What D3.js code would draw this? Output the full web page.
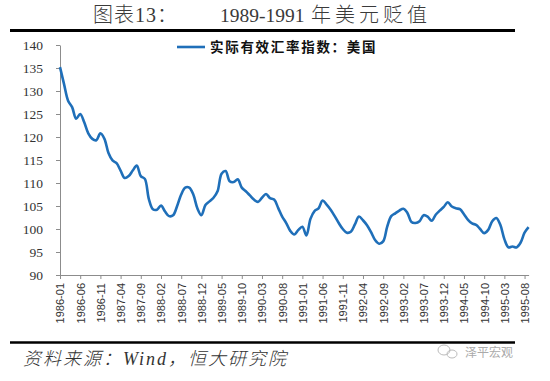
<!DOCTYPE html>
<html><head><meta charset="utf-8">
<script src="https://cdn.jsdelivr.net/npm/d3@7/dist/d3.min.js"></script>
<style>body{margin:0;background:#fff;}svg{display:block;}</style>
</head><body>
<svg id="c" width="550" height="381"></svg>
<script>
// ---- data ----
const seriesName = "实际有效汇率指数：美国";
const startYear = 1986, startMonth = 1;
const values = [
  135.2,131.5,127.9,126.5,124.0,125.0,123.2,120.8,119.6,119.3,120.8,119.6,
  116.5,114.9,114.3,112.7,111.1,111.5,112.7,113.8,111.5,110.9,106.5,104.3,
  104.2,105.1,103.8,102.8,103.0,105.0,107.5,109.0,109.0,107.5,104.5,103.0,
  105.2,106.0,106.8,108.2,112.0,112.6,110.4,110.2,110.8,109.0,108.2,107.3,
  106.4,105.9,106.8,107.6,106.7,106.4,104.6,102.7,101.3,99.6,98.8,99.8,
  100.5,98.6,102.2,103.9,104.5,106.2,105.3,104.2,102.8,101.3,100.0,99.2,
  99.4,101.0,102.7,101.9,100.8,99.3,97.6,96.8,97.3,100.5,102.8,103.4,
  104.0,104.4,103.5,101.5,101.3,101.7,103.0,102.7,101.8,103.1,104.0,104.8,
  105.8,104.9,104.5,104.3,103.2,102.0,101.2,100.9,100.0,99.1,99.8,101.7,
  102.4,100.9,97.8,96.0,96.2,96.0,97.0,99.2,100.4
];
const xTickLabels = ["1986-01","1986-06","1986-11","1987-04","1987-09","1988-02","1988-07","1988-12",
  "1989-05","1989-10","1990-03","1990-08","1991-01","1991-06","1991-11","1992-04","1992-09",
  "1993-02","1993-07","1993-12","1994-05","1994-10","1995-03","1995-08"];
const yTickValues = [90,95,100,105,110,115,120,125,130,135,140];

// categories (month labels)
const categories = values.map((v,i)=>{
  const m = startMonth - 1 + i;
  const yr = startYear + Math.floor(m/12);
  const mm = (m%12)+1;
  return yr + "-" + (mm<10?"0"+mm:mm);
});
const data = categories.map((c,i)=>({c, v: values[i]}));

// ---- layout ----
const svg = d3.select("#c");
const pL = 60, pR = 528.6, pT = 45, pB = 275;
const x = d3.scalePoint().domain(categories).range([pL, pR]);
const y = d3.scaleLinear().domain([90,140]).range([pB, pT]);
const axisColor = "#8c8c8c";

// title
const title = svg.append("text").attr("y", 22).attr("fill","#3a3a3a")
  .style("font-family","'Liberation Serif','Noto Sans CJK SC',serif").style("font-weight","300");
title.append("tspan").attr("x", 93).style("font-size","20px").attr("letter-spacing","1").text("图表13：");
title.append("tspan").attr("x", 220).style("font-size","19.5px").text("1989-1991");
title.append("tspan").attr("x", 311).style("font-size","20px").attr("letter-spacing","4").text("年美元贬值");

// rules
svg.append("line").attr("x1",10).attr("x2",515).attr("y1",30.5).attr("y2",30.5).attr("stroke","#000").attr("stroke-width",3);
svg.append("line").attr("x1",10).attr("x2",515).attr("y1",342.5).attr("y2",342.5).attr("stroke","#000").attr("stroke-width",2.5);

// y axis
const yAxis = svg.append("g").attr("transform",`translate(${pL},0)`)
  .call(d3.axisLeft(y).tickValues(yTickValues).tickSize(4).tickSizeOuter(0).tickPadding(13));
yAxis.select(".domain").attr("stroke",axisColor);
yAxis.selectAll(".tick line").attr("stroke",axisColor);
yAxis.selectAll(".tick text").attr("fill","#333")
  .style("font-family","'Liberation Serif',serif").style("font-size","13.5px");

// x axis
const xAxis = svg.append("g").attr("transform",`translate(0,${pB})`)
  .call(d3.axisBottom(x).tickValues(xTickLabels).tickSize(4).tickSizeOuter(0));
xAxis.select(".domain").attr("stroke",axisColor);
xAxis.selectAll(".tick line").attr("stroke",axisColor);
xAxis.selectAll(".tick text").attr("fill","#333")
  .style("font-family","'Liberation Sans',Arial,sans-serif").style("font-size","11px")
  .attr("transform","rotate(-90)").attr("text-anchor","end")
  .attr("x",-8).attr("y",0).attr("dy","0.35em");

// line
const line = d3.line().x(d=>x(d.c)).y(d=>y(d.v)).curve(d3.curveCatmullRom.alpha(0.5));
svg.append("path").datum(data).attr("d",line).attr("fill","none")
  .attr("stroke","#1f6fb9").attr("stroke-width",2.6).attr("stroke-linejoin","round");

// legend
svg.append("line").attr("x1",177).attr("x2",205).attr("y1",47).attr("y2",47)
  .attr("stroke","#1f6fb9").attr("stroke-width",2.6);
svg.append("text").attr("x",210).attr("y",52).attr("fill","#111")
  .style("font-family","'Noto Sans CJK SC',sans-serif").style("font-size","13.5px")
  .style("font-weight","bold").attr("letter-spacing","1.7").text(seriesName);

// footer
svg.append("text").attr("x",23).attr("y",365).attr("fill","#333")
  .style("font-family","'Liberation Serif','Noto Sans CJK SC',serif").style("font-size","18px")
  .style("font-style","italic").style("font-weight","300").attr("letter-spacing","2").text("资料来源：Wind，恒大研究院");

// watermark
const wm = svg.append("g").attr("fill","none").attr("stroke","#bbb").attr("stroke-width",1);
wm.append("ellipse").attr("cx",444).attr("cy",350).attr("rx",6).attr("ry",5);
wm.append("ellipse").attr("cx",452).attr("cy",354).attr("rx",5).attr("ry",4);
svg.append("text").attr("x",465).attr("y",357).attr("fill","#aaa")
  .style("font-family","'Noto Sans CJK SC',sans-serif").style("font-size","12px").text("泽平宏观");
</script>
</body></html>
